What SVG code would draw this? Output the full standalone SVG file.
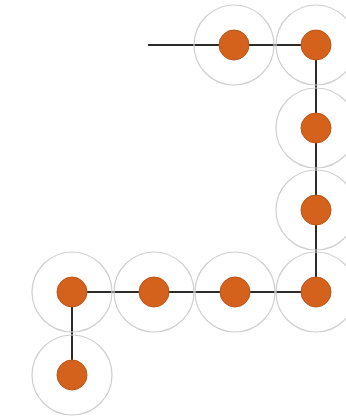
<svg xmlns="http://www.w3.org/2000/svg" width="346" height="417" viewBox="0 0 346 417">
<style>
.ring{fill:none;stroke:#cfcfcf;stroke-width:1.2}
.dot{fill:#d4621c;stroke:#b9561a;stroke-width:1}
.link{stroke:#2b2b2b;stroke-width:2;fill:none}
</style>
<rect width="346" height="417" fill="#ffffff"/>
<g id="connectors">
<path class="link" d="M148 45 L316 45 L316 292 L72 292 L72 375"/>
</g>
<g id="n1"><circle class="ring" cx="234" cy="45" r="40"/><circle class="dot" cx="234" cy="45" r="15"/></g>
<g id="n2"><circle class="ring" cx="316" cy="45" r="40"/><circle class="dot" cx="316" cy="45" r="15"/></g>
<g id="n3"><circle class="ring" cx="316" cy="128" r="40"/><circle class="dot" cx="316" cy="128" r="15"/></g>
<g id="n4"><circle class="ring" cx="316" cy="210" r="40"/><circle class="dot" cx="316" cy="210" r="15"/></g>
<g id="n5"><circle class="ring" cx="316" cy="292" r="40"/><circle class="dot" cx="316" cy="292" r="15"/></g>
<g id="n6"><circle class="ring" cx="235" cy="292" r="40"/><circle class="dot" cx="235" cy="292" r="15"/></g>
<g id="n7"><circle class="ring" cx="154" cy="292" r="40"/><circle class="dot" cx="154" cy="292" r="15"/></g>
<g id="n8"><circle class="ring" cx="72" cy="292" r="40"/><circle class="dot" cx="72" cy="292" r="15"/></g>
<g id="n9"><circle class="ring" cx="72" cy="375" r="40"/><circle class="dot" cx="72" cy="375" r="15"/></g>
</svg>
